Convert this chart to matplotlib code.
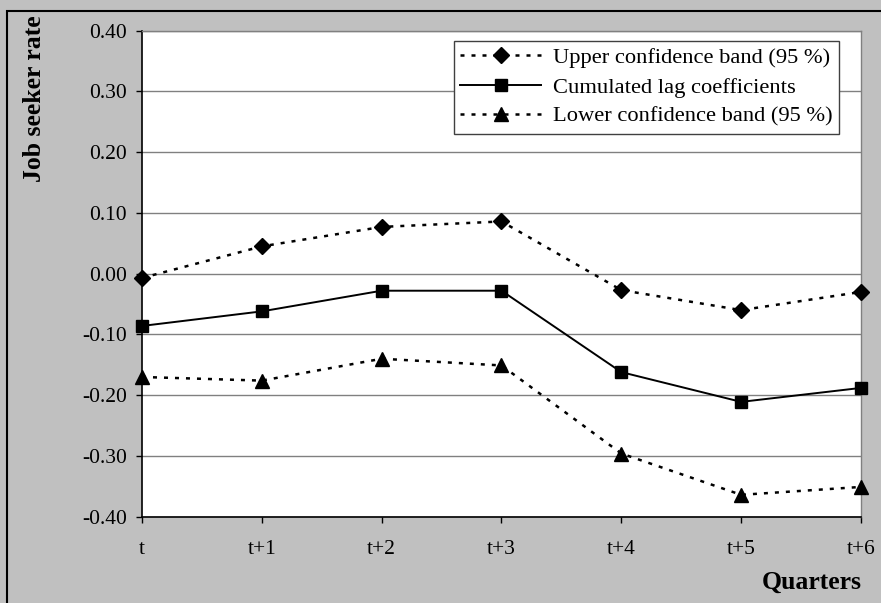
import numpy as np
import matplotlib
matplotlib.use("Agg")
from matplotlib import pyplot as plt
from matplotlib.patches import Rectangle

quarters = ["t", "t+1", "t+2", "t+3", "t+4", "t+5", "t+6"]
upper = [-0.007, 0.045, 0.077, 0.086, -0.027, -0.060, -0.030]
cumulated = [-0.086, -0.062, -0.028, -0.028, -0.162, -0.211, -0.188]
lower = [-0.170, -0.176, -0.140, -0.151, -0.296, -0.364, -0.351]
y_ticks = [-0.4, -0.3, -0.2, -0.1, 0.0, 0.1, 0.2, 0.3, 0.4]

plt.rcParams['font.family'] = ['Liberation Serif', 'DejaVu Serif']
plt.rcParams['axes.unicode_minus'] = False

W, H = 881, 603
fig = plt.figure(figsize=(W / 100, H / 100), dpi=100, facecolor="#c0c0c0")
ax = fig.add_axes([142 / W, 1 - 516.7 / H, (861 - 142) / W, (516.7 - 30.7) / H])
ax.set_facecolor("white")

x = np.arange(len(quarters))
dots = (0, (1.6, 2.8))
ax.plot(x, upper, color="black", lw=1.8, linestyle=dots, marker="D", ms=8.5,
        label="Upper confidence band (95 %)", zorder=3, clip_on=False)
ax.plot(x, cumulated, color="black", lw=1.4, linestyle="-", marker="s", ms=8,
        label="Cumulated lag coefficients", zorder=3, clip_on=False)
ax.plot(x, lower, color="black", lw=1.8, linestyle=dots, marker="^", ms=9.5,
        label="Lower confidence band (95 %)", zorder=3, clip_on=False)

ax.set_xlim(0, len(quarters) - 1)
ax.set_ylim(-0.4, 0.4)
ax.set_xticks(x)
ax.set_xticklabels(quarters)
ax.set_yticks(y_ticks)
ax.set_yticklabels(["%.2f" % v for v in y_ticks])
ax.yaxis.grid(True, color="#808080", lw=1.0)
ax.set_axisbelow(True)
ax.tick_params(axis="both", direction="out", length=4, width=1, color="black",
               labelsize=15.5)
ax.tick_params(axis="y", pad=7)
ax.tick_params(axis="x", pad=13)
for s in ["left", "bottom"]:
    ax.spines[s].set_color("black")
    ax.spines[s].set_linewidth(1.2)
for s in ["top", "right"]:
    ax.spines[s].set_color("#808080")
    ax.spines[s].set_linewidth(1.0)

leg = ax.legend(loc="upper right", bbox_to_anchor=(839 / W, 1 - 40.7 / H),
                bbox_transform=fig.transFigure, fontsize=16.2, handlelength=3.6,
                frameon=True, fancybox=False, framealpha=1, edgecolor="#404040",
                borderpad=0.3, labelspacing=0.38, handletextpad=0.5,
                borderaxespad=0)
leg.get_frame().set_linewidth(1.0)

fig.text(35 / W, 1 - 15 / H, "Job seeker rate", rotation=90, ha="center",
         va="top", fontsize=18.5, fontweight="bold")
fig.text(862 / W, 1 - 582 / H, "Quarters", ha="right", va="center",
         fontsize=18.5, fontweight="bold")

fig.patches.append(Rectangle((7 / W, -0.1), 1.2, 1.1 - 11 / H, transform=fig.transFigure,
                             fill=False, edgecolor="black", lw=1.5))

fig.savefig("out.png", dpi=100, facecolor=fig.get_facecolor())
